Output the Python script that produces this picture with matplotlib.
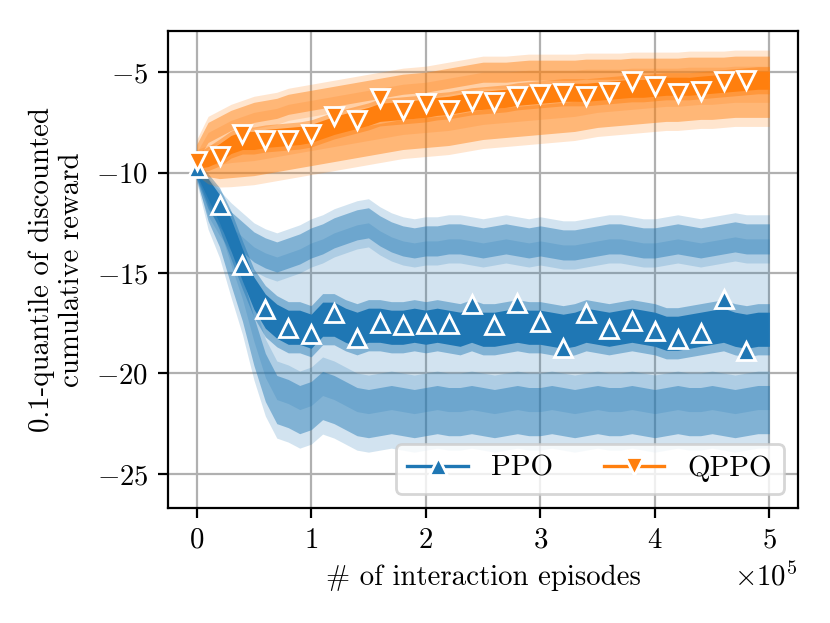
import numpy as np
import matplotlib
matplotlib.use("Agg")
import matplotlib.pyplot as plt
from matplotlib.lines import Line2D

plt.rcParams.update({
    "font.family": "serif",
    "font.serif": ["cmr10"],
    "mathtext.fontset": "cm",
    "axes.formatter.use_mathtext": True,
    "font.size": 10.4,
    "axes.unicode_minus": True,
})

# sample grid (thousands of interaction episodes)
episodes_k = [0, 10, 20, 30, 40, 50, 60, 70, 80, 90,
              100, 110, 120, 130, 140, 150, 160, 170, 180, 190,
              200, 210, 220, 230, 240, 250, 260, 270, 280, 290,
              300, 310, 320, 330, 340, 350, 360, 370, 380, 390,
              400, 410, 420, 430, 440, 450, 460, 470, 480, 490, 500]

# ---- PPO ----
ppo_mean = [-9.8, -10.8, -11.8, -13.1, -14.6, -16.0, -16.9, -17.4, -17.7, -17.7,
            -17.9, -17.3, -17.3, -17.6, -17.8, -17.6, -17.6, -17.7, -17.7, -17.6,
            -17.7, -17.6, -17.7, -17.8, -17.6, -17.8, -17.8, -17.7, -17.6, -17.7,
            -17.7, -17.8, -17.9, -17.8, -17.6, -17.7, -17.8, -17.7, -17.6, -17.7,
            -17.8, -18.0, -18.0, -17.9, -17.8, -17.7, -17.6, -17.8, -17.9, -17.8, -17.8]
ppo_mean_noise = [0.3, 0.5, 0.7, 0.8, 0.8, 0.8, 0.85, 0.85, 0.85, 0.85,
                  0.85, 0.85, 0.85, 0.85, 0.85, 0.85, 0.85, 0.85, 0.85, 0.85,
                  0.85, 0.85, 0.85, 0.85, 0.85, 0.85, 0.85, 0.85, 0.85, 0.85,
                  0.85, 0.85, 0.85, 0.85, 0.85, 0.85, 0.85, 0.85, 0.85, 0.85,
                  0.85, 0.85, 0.85, 0.85, 0.85, 0.85, 0.85, 0.85, 0.85, 0.85, 0.85]
ppo_upper = [-10.0, -11.2, -12.0, -12.7, -13.2, -13.7, -14.0, -14.2, -14.0, -13.8,
             -13.5, -13.3, -13.0, -12.8, -12.6, -12.5, -12.9, -13.2, -13.4, -13.5,
             -13.4, -13.4, -13.3, -13.3, -13.4, -13.5, -13.4, -13.3, -13.4, -13.5,
             -13.4, -13.5, -13.6, -13.6, -13.5, -13.4, -13.3, -13.3, -13.4, -13.5,
             -13.5, -13.4, -13.3, -13.4, -13.5, -13.4, -13.3, -13.2, -13.3, -13.3, -13.3]
ppo_upper_noise = [0.3, 0.6, 0.7, 0.75, 0.75, 0.75, 0.75, 0.75, 0.75, 0.75,
                   0.75, 0.75, 0.75, 0.75, 0.75, 0.75, 0.75, 0.75, 0.75, 0.75,
                   0.75, 0.75, 0.75, 0.75, 0.75, 0.75, 0.75, 0.75, 0.75, 0.75,
                   0.75, 0.75, 0.75, 0.75, 0.75, 0.75, 0.75, 0.75, 0.75, 0.75,
                   0.75, 0.75, 0.75, 0.75, 0.75, 0.75, 0.75, 0.75, 0.75, 0.75, 0.75]
ppo_lower = [-10.0, -11.7, -12.8, -14.6, -16.3, -18.4, -20.2, -21.3, -21.5, -21.8,
             -21.6, -21.1, -21.3, -21.6, -21.9, -22.0, -21.9, -21.8, -21.9, -22.0,
             -21.9, -21.8, -21.9, -21.9, -21.8, -21.9, -22.0, -21.9, -21.8, -21.9,
             -21.9, -21.8, -21.9, -22.0, -21.9, -21.8, -21.9, -21.9, -21.8, -21.9,
             -22.0, -21.9, -21.8, -21.9, -21.9, -21.8, -21.9, -22.0, -21.9, -21.8, -21.8]
ppo_lower_noise = [0.3, 0.7, 0.9, 1.0, 1.1, 1.2, 1.2, 1.2, 1.2, 1.2,
                   1.2, 1.2, 1.2, 1.2, 1.2, 1.2, 1.2, 1.2, 1.2, 1.2,
                   1.2, 1.2, 1.2, 1.2, 1.2, 1.2, 1.2, 1.2, 1.2, 1.2,
                   1.2, 1.2, 1.2, 1.2, 1.2, 1.2, 1.2, 1.2, 1.2, 1.2,
                   1.2, 1.2, 1.2, 1.2, 1.2, 1.2, 1.2, 1.2, 1.2, 1.2, 1.2]

# ---- QPPO ----
qppo_mean = [-9.5, -9.3, -9.0, -8.6, -8.4, -8.4, -8.3, -8.25, -8.2, -8.15,
             -8.05, -7.85, -7.65, -7.5, -7.35, -7.2, -7.0, -6.95, -6.9, -6.85,
             -6.8, -6.7, -6.65, -6.55, -6.45, -6.4, -6.35, -6.3, -6.2, -6.15,
             -6.1, -6.05, -6.0, -6.0, -6.0, -5.95, -5.9, -5.85, -5.8, -5.8,
             -5.75, -5.7, -5.7, -5.7, -5.65, -5.6, -5.55, -5.5, -5.45, -5.4, -5.4]
qppo_mean_noise = [0.3, 0.4, 0.45, 0.45, 0.45, 0.45, 0.45, 0.45, 0.45, 0.45,
                   0.45, 0.45, 0.45, 0.45, 0.45, 0.45, 0.45, 0.45, 0.45, 0.45,
                   0.45, 0.45, 0.45, 0.45, 0.45, 0.45, 0.45, 0.45, 0.45, 0.45,
                   0.45, 0.45, 0.45, 0.45, 0.45, 0.45, 0.45, 0.45, 0.45, 0.45,
                   0.45, 0.45, 0.45, 0.45, 0.45, 0.45, 0.45, 0.45, 0.45, 0.45, 0.45]
qppo_upper = [-9.0, -8.0, -7.7, -7.4, -7.2, -7.0, -6.9, -6.8, -6.6, -6.5,
              -6.4, -6.3, -6.2, -6.1, -6.0, -5.9, -5.8, -5.7, -5.6, -5.55,
              -5.5, -5.4, -5.3, -5.2, -5.1, -5.0, -5.0, -5.0, -4.95, -4.9,
              -4.9, -4.9, -4.9, -4.9, -4.85, -4.85, -4.85, -4.85, -4.8, -4.8,
              -4.8, -4.8, -4.8, -4.75, -4.75, -4.75, -4.75, -4.7, -4.7, -4.7, -4.7]
qppo_upper_noise = [0.4, 0.5, 0.5, 0.5, 0.5, 0.5, 0.5, 0.5, 0.5, 0.5,
                    0.5, 0.5, 0.5, 0.5, 0.5, 0.5, 0.5, 0.5, 0.5, 0.5,
                    0.5, 0.5, 0.5, 0.5, 0.5, 0.5, 0.5, 0.5, 0.5, 0.5,
                    0.5, 0.5, 0.5, 0.5, 0.5, 0.5, 0.5, 0.5, 0.5, 0.5,
                    0.5, 0.5, 0.5, 0.5, 0.5, 0.5, 0.5, 0.5, 0.5, 0.5, 0.5]
qppo_lower = [-9.5, -9.6, -9.6, -9.5, -9.45, -9.4, -9.3, -9.2, -9.1, -9.0,
              -8.9, -8.8, -8.7, -8.6, -8.5, -8.4, -8.3, -8.2, -8.1, -8.05,
              -8.0, -7.95, -7.9, -7.8, -7.7, -7.6, -7.55, -7.5, -7.45, -7.4,
              -7.35, -7.3, -7.25, -7.2, -7.1, -7.0, -6.95, -6.9, -6.85, -6.8,
              -6.75, -6.7, -6.7, -6.65, -6.6, -6.6, -6.55, -6.5, -6.5, -6.5, -6.5]
qppo_lower_noise = [0.4, 0.6, 0.7, 0.75, 0.75, 0.75, 0.75, 0.75, 0.75, 0.75,
                    0.75, 0.75, 0.75, 0.75, 0.75, 0.75, 0.75, 0.75, 0.75, 0.75,
                    0.75, 0.75, 0.75, 0.75, 0.75, 0.75, 0.75, 0.75, 0.75, 0.75,
                    0.75, 0.75, 0.75, 0.75, 0.75, 0.75, 0.75, 0.75, 0.75, 0.75,
                    0.75, 0.75, 0.75, 0.75, 0.75, 0.75, 0.75, 0.75, 0.75, 0.75, 0.75]

# markers (every 20k episodes)
marker_k = [0, 20, 40, 60, 80, 100, 120, 140, 160, 180, 200, 220, 240,
            260, 280, 300, 320, 340, 360, 380, 400, 420, 440, 460, 480]
ppo_markers = [-9.75, -11.63, -14.6, -16.77, -17.76, -18.03, -17.0, -18.26, -17.48,
               -17.6, -17.56, -17.53, -16.55, -17.58, -16.47, -17.42, -18.73,
               -16.98, -17.78, -17.4, -17.9, -18.27, -17.98, -16.28, -18.9]
qppo_markers = [-9.44, -9.19, -8.07, -8.36, -8.36, -8.07, -7.2, -7.36, -6.28,
                -6.87, -6.53, -6.87, -6.45, -6.48, -6.2, -6.1, -6.03, -6.2,
                -6.0, -5.46, -5.7, -6.03, -5.95, -5.46, -5.37]

labels = ["PPO", "QPPO"]
colors = ["#1f77b4", "#ff7f0e"]

x = np.array(episodes_k) * 1000.0
mx = np.array(marker_k) * 1000.0

fig = plt.figure(figsize=(4.15, 3.115), dpi=200)
ax = fig.add_axes([0.2024, 0.1846, 0.759, 0.7656])
ax.grid(True, color="#b0b0b0", linewidth=0.8)
ax.set_axisbelow(True)

series = [
    (ppo_mean, ppo_mean_noise, ppo_upper, ppo_upper_noise, ppo_lower, ppo_lower_noise, ppo_markers, "^"),
    (qppo_mean, qppo_mean_noise, qppo_upper, qppo_upper_noise, qppo_lower, qppo_lower_noise, qppo_markers, "v"),
]

handles = []
for (mean, mn, up, un, lo, ln, mk, sym), col, lab in zip(series, colors, labels):
    mean = np.array(mean); mn = np.array(mn)
    up = np.array(up); un = np.array(un)
    lo = np.array(lo); ln = np.array(ln)
    # shaded region between upper and lower curves
    ax.fill_between(x, lo, up, color=col, alpha=0.2, linewidth=0)
    # noisy upper / lower curves
    for c, n in ((up, un), (lo, ln)):
        ax.fill_between(x, c - 1.6 * n, c + 1.6 * n, color=col, alpha=0.2, linewidth=0)
        ax.fill_between(x, c - n, c + n, color=col, alpha=0.45, linewidth=0)
    # noisy mean curve
    ax.fill_between(x, mean - 1.5 * mn, mean + 1.5 * mn, color=col, alpha=0.45, linewidth=0)
    ax.fill_between(x, mean - mn, mean + mn, color=col, alpha=1.0, linewidth=0)
    ax.plot(mx, mk, linestyle="none", marker=sym, markersize=6.5,
            markerfacecolor=col, markeredgecolor="white", markeredgewidth=1.0, zorder=3)
    handles.append(Line2D([], [], color=col, linewidth=1.2, marker=sym, markersize=6.5,
                          markerfacecolor=col, markeredgecolor="white",
                          markeredgewidth=1.0, label=lab))

ax.set_xlim(-25000, 525000)
ax.set_ylim(-26.7, -2.95)
ax.set_yticks([-25, -20, -15, -10, -5])
ax.set_xticks([0, 100000, 200000, 300000, 400000, 500000])
ax.ticklabel_format(axis="x", style="sci", scilimits=(0, 0))

ax.set_xlabel("# of interaction episodes")
ax.set_ylabel("0.1-quantile of discounted\ncumulative reward")

ax.legend(handles=handles, loc="lower right", ncol=2, handlelength=2.1,
          columnspacing=1.75, framealpha=0.8)

fig.savefig("out.png", dpi=200)
